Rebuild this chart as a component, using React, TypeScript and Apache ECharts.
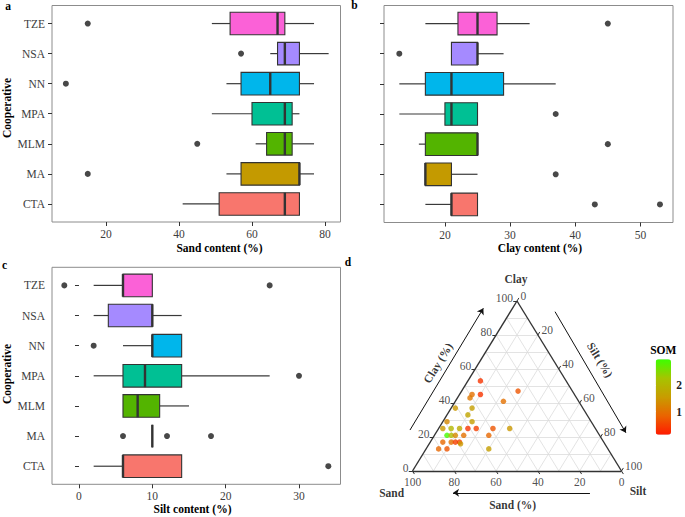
import React, { useEffect, useRef } from 'react';
import * as echarts from 'echarts';

// ---------- data ----------
const categories = ['CTA', 'MA', 'MLM', 'MPA', 'NN', 'NSA', 'TZE'];
const boxColors = ['#F8766D', '#C49A00', '#53B400', '#00C094', '#00B6EB', '#A58AFF', '#FB61D7'];

// [min, Q1, median, Q3, max] per category
const sandBox = [
  [41, 51, 69, 73, 73],
  [53, 57, 73, 73, 77],
  [61, 64, 69, 71, 77],
  [49, 60, 69, 71, 73],
  [53, 57, 65, 73, 77],
  [65, 67, 69, 73, 81],
  [49, 54, 67, 69, 77],
];
const sandOutliers: [string, number][] = [['TZE', 15], ['NSA', 57], ['NN', 9], ['MLM', 45], ['MA', 15]];

const clayBox = [
  [17, 21, 21, 25, 25],
  [17, 17, 17, 21, 25],
  [16, 17, 25, 25, 25],
  [13, 20, 21, 25, 25],
  [13, 17, 21, 29, 37],
  [21, 21, 25, 25, 29],
  [17, 22, 25, 28, 33],
];
const clayOutliers: [string, number][] = [['TZE', 45], ['NSA', 13], ['MPA', 37], ['MLM', 45], ['MA', 37], ['CTA', 43], ['CTA', 53]];

const siltBox = [
  [2, 6, 6, 14, 14],
  [10, 10, 10, 10, 10],
  [6, 6, 8, 11, 15],
  [2, 6, 9, 14, 26],
  [6, 10, 10, 14, 14],
  [2, 4, 10, 10, 14],
  [2, 6, 6, 10, 10],
];
const siltOutliers: [string, number][] = [['TZE', -2], ['TZE', 26], ['NN', 2], ['MPA', 30], ['MA', 6], ['MA', 12], ['MA', 18], ['CTA', 34]];

const sandTicks = [20, 40, 60, 80];
const clayTicks = [20, 30, 40, 50];
const siltTicks = [0, 10, 20, 30];

// ternary samples
const soilClay = [53, 47, 45, 45, 43, 41, 37, 37, 33, 29, 29, 25, 25, 25, 25, 25, 25, 25, 21, 21, 21, 21, 21, 17, 17, 17, 17, 16, 13, 13, 13];
const soilSilt = [6, 27, 6, 10, 6, 23, 2, 10, 10, 2, 14, 2, 6, 10, 14, 18, 26, 34, 6, 8, 10, 14, 26, 6, 10, 12, 14, 15, 6, 10, 30];
const soilSand = [41, 26, 49, 45, 51, 36, 61, 53, 57, 69, 57, 73, 69, 65, 61, 57, 49, 41, 73, 71, 69, 65, 53, 77, 73, 71, 69, 69, 81, 77, 57];
const soilSom = [0.4, 0.7, 1.0, 0.4, 1.1, 1.0, 1.5, 1.6, 1.7, 1.3, 1.6, 1.5, 2.0, 1.8, 0.4, 0.5, 0.7, 1.5, 2.9, 2.1, 1.3, 1.0, 0.9, 0.9, 1.0, 0.5, 0.5, 1.5, 0.9, 0.7, 1.6];
const ternaryLabels = [0, 20, 40, 60, 80, 100];
const ternaryGridSteps = [10, 20, 30, 40, 50, 60, 70, 80, 90];
const somRange = [0.14, 2.96];
const somTicks = [1, 2];

// ---------- helpers ----------
const FONT = "'Liberation Serif', 'Times New Roman', serif";
const tern = (clay: number, silt: number) => [silt / 100 + clay / 200, clay / 100];

function boxSeries(stats: number[][], axisIndex: number) {
  return {
    type: 'custom',
    xAxisIndex: axisIndex,
    yAxisIndex: axisIndex,
    silent: true,
    data: stats.map((s, i) => [i + 1, ...s]),
    encode: { x: [1, 2, 3, 4, 5], y: 0 },
    renderItem: (params: any, api: any) => {
      const y = api.value(0);
      const lo = api.coord([api.value(1), y]);
      const q1 = api.coord([api.value(2), y]);
      const md = api.coord([api.value(3), y]);
      const q3 = api.coord([api.value(4), y]);
      const hi = api.coord([api.value(5), y]);
      const h = api.size([0, 0.75])[1];
      const stroke = '#333333';
      return {
        type: 'group',
        children: [
          { type: 'line', shape: { x1: lo[0], y1: lo[1], x2: q1[0], y2: q1[1] }, style: { stroke: '#3a3a3a', lineWidth: 1.2 } },
          { type: 'line', shape: { x1: q3[0], y1: q3[1], x2: hi[0], y2: hi[1] }, style: { stroke: '#3a3a3a', lineWidth: 1.2 } },
          {
            type: 'rect',
            shape: { x: q1[0], y: q1[1] - h / 2, width: q3[0] - q1[0], height: h },
            style: { fill: boxColors[params.dataIndex], stroke, lineWidth: 1.1 },
          },
          { type: 'line', shape: { x1: md[0], y1: md[1] - h / 2, x2: md[0], y2: md[1] + h / 2 }, style: { stroke, lineWidth: 2.4 } },
        ],
      };
    },
  };
}

function outlierSeries(out: [string, number][], axisIndex: number) {
  return {
    type: 'scatter',
    xAxisIndex: axisIndex,
    yAxisIndex: axisIndex,
    silent: true,
    symbolSize: 6,
    itemStyle: { color: '#1a1a1a' },
    data: out.map(([c, v]) => [v, categories.indexOf(c) + 1]),
  };
}

const catVals = categories.map((_, i) => i + 1);

function boxYAxis(gridIndex: number, showLabels: boolean) {
  return {
    type: 'value',
    gridIndex,
    min: 0.4,
    max: 7.6,
    axisLine: { show: false },
    splitLine: { show: false },
    axisTick: { show: true, customValues: catVals, length: 4, lineStyle: { color: '#333' } },
    axisLabel: {
      show: showLabels,
      customValues: catVals,
      formatter: (v: number) => categories[Math.round(v) - 1],
      margin: 7,
      color: '#3d3d3d',
      fontFamily: FONT,
      fontSize: 11.5,
    },
  };
}

function boxXAxis(gridIndex: number, min: number, max: number, ticks: number[]) {
  return {
    type: 'value',
    gridIndex,
    min,
    max,
    axisLine: { show: false },
    splitLine: { show: false },
    axisTick: { show: true, customValues: ticks, length: 4, lineStyle: { color: '#333' } },
    axisLabel: { customValues: ticks, margin: 6, color: '#3d3d3d', fontFamily: FONT, fontSize: 11.5 },
  };
}

function buildOption() {
  const gridLines: any[] = [];
  ternaryGridSteps.forEach((k) => {
    gridLines.push({ coords: [tern(k, 0), tern(k, 100 - k)] });
    gridLines.push({ coords: [tern(0, k), tern(100 - k, k)] });
    gridLines.push({ coords: [tern(0, 100 - k), tern(100 - k, 0)] });
  });
  const tickLines: any[] = [];
  ternaryLabels.forEach((k) => {
    const a = tern(k, 0);
    tickLines.push({ coords: [a, [a[0] - 0.018, a[1]]] });
    const b = tern(100 - k, k);
    tickLines.push({ coords: [b, [b[0] + 0.009, b[1] + 0.018]] });
    const c = tern(0, 100 - k);
    tickLines.push({ coords: [c, [c[0] + 0.009, c[1] - 0.018]] });
  });

  const labelStyle = { fontFamily: FONT, fontSize: 11.5, color: '#222' };
  const labelItems: any[] = [];
  ternaryLabels.forEach((k) => {
    labelItems.push({ name: String(k), value: tern(k, 0), label: { ...labelStyle, align: 'right', verticalAlign: 'middle', offset: [-4, -3] } });
    labelItems.push({ name: String(k), value: tern(100 - k, k), label: { ...labelStyle, align: 'left', verticalAlign: 'middle', offset: [3.5, -5] } });
    labelItems.push({ name: String(k), value: tern(0, 100 - k), label: { ...labelStyle, align: 'center', verticalAlign: 'top', offset: [0, 5] } });
  });
  const bold = { fontFamily: FONT, fontSize: 11.5, fontWeight: 'bold', color: '#000', align: 'center', verticalAlign: 'middle' };
  labelItems.push({ name: 'Clay', value: [0.495, 1.128], label: { ...bold } });
  labelItems.push({ name: 'Sand', value: [-0.1, -0.131], label: { ...bold } });
  labelItems.push({ name: 'Silt', value: [1.079, -0.116], label: { ...bold } });
  labelItems.push({ name: 'Clay (%)', value: [0.122, 0.635], label: { ...bold, rotate: 58.4 } });
  labelItems.push({ name: 'Silt (%)', value: [0.897, 0.653], label: { ...bold, rotate: -58.4 } });
  labelItems.push({ name: 'Sand (%)', value: [0.479, -0.2], label: { ...bold } });

  const arrows = [
    { coords: [[-0.012, 0.241], [0.339, 0.957]] },
    { coords: [[0.682, 0.937], [1.021, 0.225]] },
    { coords: [[0.849, -0.128], [0.194, -0.128]] },
  ];

  const points = soilClay.map((c, i) => {
    const p = tern(c, soilSilt[i]);
    return [p[0], p[1], soilSom[i], soilSand[i]];
  });

  const text = (t: string, x: number, y: number, extra: any = {}) => ({
    type: 'text',
    x,
    y,
    silent: true,
    ...extra,
    style: { text: t, font: `bold 11.5px ${FONT}`, fill: '#000', align: 'center', verticalAlign: 'middle' },
  });

  const series: any[] = [
    boxSeries(sandBox, 0),
    outlierSeries(sandOutliers, 0),
    boxSeries(clayBox, 1),
    outlierSeries(clayOutliers, 1),
    boxSeries(siltBox, 2),
    outlierSeries(siltOutliers, 2),
    {
      type: 'lines', coordinateSystem: 'cartesian2d', xAxisIndex: 3, yAxisIndex: 3, silent: true,
      lineStyle: { color: '#dcdcdc', width: 0.8, opacity: 1 }, data: gridLines, z: 1,
    },
    {
      type: 'lines', coordinateSystem: 'cartesian2d', xAxisIndex: 3, yAxisIndex: 3, silent: true,
      lineStyle: { color: '#333', width: 1, opacity: 1 }, data: tickLines, z: 2,
    },
    {
      type: 'lines', coordinateSystem: 'cartesian2d', xAxisIndex: 3, yAxisIndex: 3, silent: true,
      lineStyle: { color: '#333', width: 1.4, opacity: 1 },
      data: [
        { coords: [tern(0, 0), tern(0, 100)] },
        { coords: [tern(0, 100), tern(100, 0)] },
        { coords: [tern(100, 0), tern(0, 0)] },
      ],
      z: 3,
    },
    {
      type: 'lines', coordinateSystem: 'cartesian2d', xAxisIndex: 3, yAxisIndex: 3, silent: true,
      symbol: ['none', 'arrow'], symbolSize: 6,
      lineStyle: { color: '#111', width: 1, opacity: 1 }, data: arrows, z: 3,
    },
    {
      type: 'scatter', xAxisIndex: 3, yAxisIndex: 3, silent: true,
      symbolSize: 0.1, itemStyle: { color: 'transparent' },
      label: { show: true, position: 'inside', formatter: '{b}' },
      data: labelItems, z: 4,
    },
    {
      type: 'scatter', xAxisIndex: 3, yAxisIndex: 3, silent: true,
      symbolSize: 5.5, data: points, z: 5,
    },
  ];

  return {
    animation: false,
    backgroundColor: '#ffffff',
    textStyle: { fontFamily: FONT },
    grid: [
      { left: 52, top: 5.5, width: 288.5, height: 216.5, show: true, borderColor: '#8c8c8c', borderWidth: 1, backgroundColor: 'transparent' },
      { left: 384, top: 5.5, width: 289, height: 217, show: true, borderColor: '#8c8c8c', borderWidth: 1, backgroundColor: 'transparent' },
      { left: 52, top: 267.3, width: 288.5, height: 217, show: true, borderColor: '#8c8c8c', borderWidth: 1, backgroundColor: 'transparent' },
      { left: 360.25, top: 267, width: 313.5, height: 246.5 },
      { left: 655.7, top: 359.3, width: 15.3, height: 75.4 },
    ],
    xAxis: [
      boxXAxis(0, 5.2, 84.25, sandTicks),
      boxXAxis(1, 10.65, 55.0, clayTicks),
      boxXAxis(2, -3.68, 35.66, siltTicks),
      { type: 'value', gridIndex: 3, min: -0.25, max: 1.25, show: false },
      { type: 'value', gridIndex: 4, min: 0, max: 1, show: false },
    ],
    yAxis: [
      boxYAxis(0, true),
      boxYAxis(1, false),
      boxYAxis(2, true),
      { type: 'value', gridIndex: 3, min: -0.25, max: 1.2, show: false },
      {
        type: 'value', gridIndex: 4, min: somRange[0], max: somRange[1], position: 'right',
        axisLine: { show: false }, splitLine: { show: false },
        axisTick: { show: true, inside: true, customValues: somTicks, length: 3, lineStyle: { color: '#ffffff', width: 1 } },
        axisLabel: { customValues: somTicks, margin: 7, color: '#222', fontFamily: FONT, fontSize: 11.5, fontWeight: 'bold' },
        z: 10,
      },
    ],
    visualMap: {
      type: 'continuous',
      seriesIndex: 11,
      dimension: 2,
      min: somRange[0],
      max: somRange[1],
      show: true,
      orient: 'vertical',
      left: 655.7,
      top: 359.3,
      itemWidth: 15.3,
      itemHeight: 75.4,
      padding: 0,
      calculable: false,
      hoverLink: false,
      inRange: { color: ['#ff1a00', '#ea6400', '#c89c00', '#a6c400', '#3cff00'] },
    },
    graphic: [
      text('a', 8, 5.5, {}),
      text('b', 354.5, 5),
      text('c', 4.5, 264.5),
      text('d', 348, 262),
      text('Sand content (%)', 219.5, 248.3),
      text('Clay content (%)', 540, 248.3),
      text('Silt content (%)', 192.5, 509),
      text('Cooperative', 7.2, 108, { rotation: Math.PI / 2 }),
      text('Cooperative', 7.2, 374, { rotation: Math.PI / 2 }),
      text('SOM', 663.3, 350),
    ],
    series,
  };
}

export default function App() {
  const ref = useRef<HTMLDivElement>(null);
  useEffect(() => {
    if (!ref.current) return;
    const chart = echarts.init(ref.current, null, { renderer: 'svg' });
    chart.setOption(buildOption() as any);
    return () => chart.dispose();
  }, []);
  return <div ref={ref} style={{ position: 'fixed', left: 0, top: 0, width: 685, height: 517, background: '#fff' }} />;
}
